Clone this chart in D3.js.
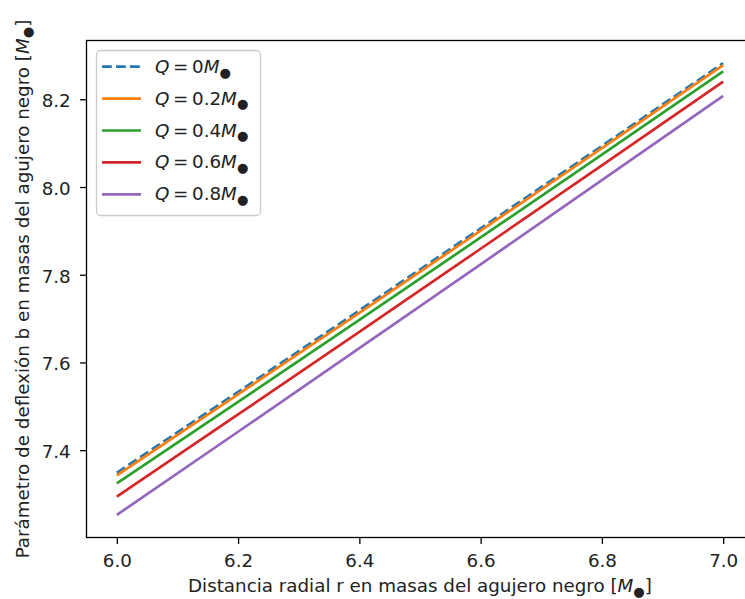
<!DOCTYPE html>
<html><head><meta charset="utf-8">
<script src="https://cdn.jsdelivr.net/npm/d3@7"></script>
<style>
body{margin:0;background:#fff;}
svg{display:block;font-family:"DejaVu Sans",sans-serif;}
</style></head>
<body>
<svg id="c" width="745" height="599"></svg>
<script>
const rValues = [6.0, 6.2, 6.4, 6.6, 6.8, 7.0];
const seriesLabels = ["0", "0.2", "0.4", "0.6", "0.8"];
const bQ0  = [7.3485, 7.5329, 7.7187, 7.9056, 8.0936, 8.2825];
const bQ02 = [7.3424, 7.5271, 7.7132, 7.9004, 8.0887, 8.2778];
const bQ04 = [7.3241, 7.5100, 7.6969, 7.8849, 8.0739, 8.2636];
const bQ06 = [7.2940, 7.4814, 7.6698, 7.8592, 8.0493, 8.2402];
const bQ08 = [7.2524, 7.4420, 7.6325, 7.8236, 8.0155, 8.2078];
const xTicks = [6.0, 6.2, 6.4, 6.6, 6.8, 7.0];
const yTicks = [7.4, 7.6, 7.8, 8.0, 8.2];

const series = [bQ0, bQ02, bQ04, bQ06, bQ08];
const colors = ["#1f77b4", "#ff7f0e", "#2ca02c", "#d62728", "#9467bd"];

const svg = d3.select("#c");
const L = 86.5, R = 753.5, T = 40.5, B = 537.5;
const FS = 18.3;
const LW = 2.7;
const DASH = "9.8,4.2";
const DOT_FS = FS * 0.72, DOT_DY = 3.8;

const allY = series.flat();
const yMin = d3.min(allY), yMax = d3.max(allY);
const yPad = (yMax - yMin) * 0.05;
const x = d3.scaleLinear().domain([6 - 0.05, 7 + 0.05]).range([L, R]);
const y = d3.scaleLinear().domain([yMin - yPad, yMax + yPad]).range([B, T]);

svg.append("defs").append("clipPath").attr("id", "pc")
  .append("rect").attr("x", L).attr("y", T).attr("width", R - L).attr("height", B - T);

const line = d3.line().x((d, i) => x(rValues[i])).y(d => y(d));
const g = svg.append("g").attr("clip-path", "url(#pc)");
series.forEach((s, k) => {
  g.append("path").datum(s).attr("d", line)
    .attr("fill", "none").attr("stroke", colors[k]).attr("stroke-width", LW)
    .attr("stroke-dasharray", k === 0 ? DASH : null);
});

// axes
const xa = svg.append("g").attr("transform", `translate(0,${B})`)
  .call(d3.axisBottom(x).tickValues(xTicks).tickFormat(d3.format(".1f")).tickSizeOuter(0).tickSize(6.4).tickPadding(6.4));
const ya = svg.append("g").attr("transform", `translate(${L},0)`)
  .call(d3.axisLeft(y).tickValues(yTicks).tickFormat(d3.format(".1f")).tickSizeOuter(0).tickSize(6.4).tickPadding(9.4));
[xa, ya].forEach(a => {
  a.select(".domain").remove();
  a.selectAll("line").attr("stroke", "#000").attr("stroke-width", 1.3);
  a.selectAll("text").attr("font-size", FS).attr("fill", "#222").attr("font-family", "DejaVu Sans");
});
xa.selectAll("text").attr("y", 0).attr("dy", 29.2);
ya.selectAll("text").attr("dy", "0.41em");

// spines
svg.append("rect").attr("x", L).attr("y", T).attr("width", R - L).attr("height", B - T)
  .attr("fill", "none").attr("stroke", "#000").attr("stroke-width", 1.3);

function mathLabel(sel, pre) {
  sel.append("tspan").text(pre);
  sel.append("tspan").attr("font-style", "italic").text("M");
  sel.append("tspan").attr("font-size", DOT_FS).attr("dy", DOT_DY).text("●");
  sel.append("tspan").attr("dy", -DOT_DY).text("]");
}

// x label
const xl = svg.append("text").attr("x", (L + R) / 2).attr("y", 591.7).attr("text-anchor", "middle")
  .attr("font-size", FS).attr("fill", "#222");
mathLabel(xl, "Distancia radial r en masas del agujero negro [");

// y label
const yl = svg.append("text").attr("transform", `translate(28.5,${(T + B) / 2}) rotate(-90)`)
  .attr("text-anchor", "middle").attr("font-size", FS).attr("fill", "#222");
mathLabel(yl, "Parámetro de deflexión b en masas del agujero negro [");

// legend
const lg = svg.append("g");
lg.append("rect").attr("x", 96.5).attr("y", 50.5).attr("width", 164).attr("height", 165).attr("rx", 4)
  .attr("fill", "#fff").attr("fill-opacity", 0.8).attr("stroke", "#ccc").attr("stroke-width", 1.3);
seriesLabels.forEach((q, k) => {
  const cy = 66.7 + k * 31.9;
  lg.append("line").attr("x1", 102).attr("x2", 141).attr("y1", cy).attr("y2", cy)
    .attr("stroke", colors[k]).attr("stroke-width", LW)
    .attr("stroke-dasharray", k === 0 ? DASH : null);
  const t = lg.append("text").attr("x", 155).attr("y", cy + 6).attr("font-size", FS).attr("fill", "#222");
  t.append("tspan").attr("font-style", "italic").text("Q");
  t.append("tspan").text("\u2009=\u2009" + q);
  t.append("tspan").attr("font-style", "italic").text("M");
  t.append("tspan").attr("font-size", DOT_FS).attr("dy", DOT_DY).text("●");
});
</script>
</body></html>
